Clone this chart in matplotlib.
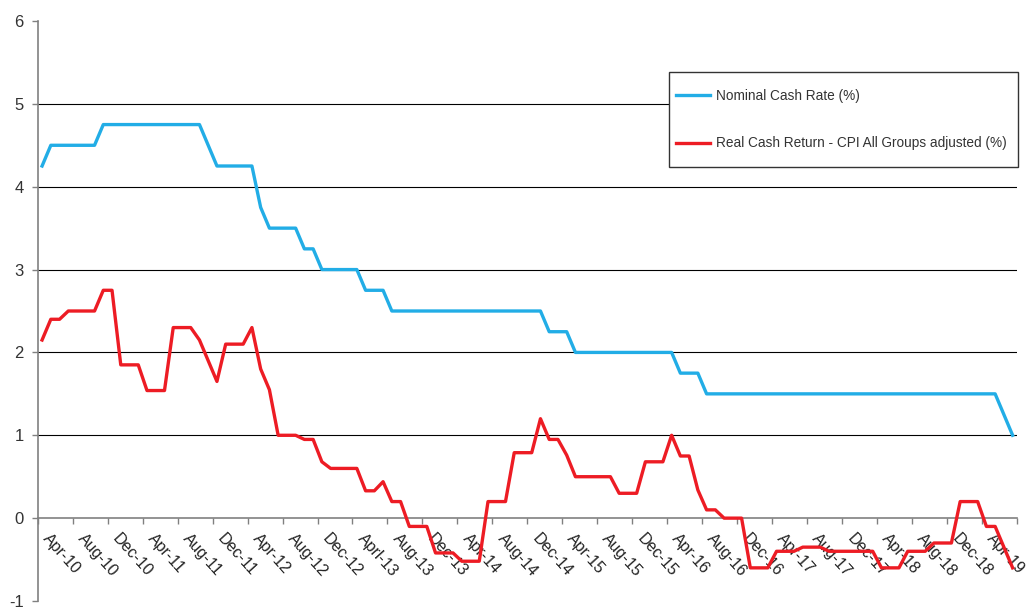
import numpy as np
import matplotlib
matplotlib.use('Agg')
import matplotlib.pyplot as plt
from matplotlib.patches import Rectangle

plt.rcParams['font.family'] = ['Liberation Sans', 'DejaVu Sans']
plt.rcParams['axes.unicode_minus'] = False

# monthly series, Apr-10 .. Jul-19
nominal_cash_rate = [4.25,
                     4.5, 4.5, 4.5, 4.5, 4.5, 4.5,
                     4.75, 4.75, 4.75, 4.75, 4.75, 4.75, 4.75, 4.75, 4.75, 4.75, 4.75, 4.75,
                     4.5,
                     4.25, 4.25, 4.25, 4.25, 4.25,
                     3.75,
                     3.5, 3.5, 3.5, 3.5,
                     3.25, 3.25,
                     3.0, 3.0, 3.0, 3.0, 3.0,
                     2.75, 2.75, 2.75,
                     2.5, 2.5, 2.5, 2.5, 2.5, 2.5, 2.5, 2.5, 2.5, 2.5, 2.5, 2.5, 2.5, 2.5, 2.5, 2.5, 2.5, 2.5,
                     2.25, 2.25, 2.25,
                     2.0, 2.0, 2.0, 2.0, 2.0, 2.0, 2.0, 2.0, 2.0, 2.0, 2.0, 2.0,
                     1.75, 1.75, 1.75,
                     1.5, 1.5, 1.5, 1.5, 1.5, 1.5, 1.5, 1.5, 1.5, 1.5, 1.5, 1.5, 1.5, 1.5, 1.5, 1.5, 1.5,
                     1.5, 1.5, 1.5, 1.5, 1.5, 1.5, 1.5, 1.5, 1.5, 1.5, 1.5, 1.5, 1.5, 1.5, 1.5, 1.5, 1.5,
                     1.25,
                     1.0]

real_cash_return = [2.15, 2.4, 2.4, 2.5, 2.5, 2.5, 2.5, 2.75, 2.75, 1.85,
                    1.85, 1.85, 1.54, 1.54, 1.54, 2.3, 2.3, 2.3, 2.15, 1.9,
                    1.65, 2.1, 2.1, 2.1, 2.3, 1.8, 1.55, 1.0, 1.0, 1.0,
                    0.95, 0.95, 0.68, 0.6, 0.6, 0.6, 0.6, 0.33, 0.33, 0.44,
                    0.2, 0.2, -0.1, -0.1, -0.1, -0.42, -0.42, -0.42, -0.52, -0.52,
                    -0.52, 0.2, 0.2, 0.2, 0.79, 0.79, 0.79, 1.2, 0.95, 0.95,
                    0.76, 0.5, 0.5, 0.5, 0.5, 0.5, 0.3, 0.3, 0.3, 0.68,
                    0.68, 0.68, 1.0, 0.75, 0.75, 0.34, 0.1, 0.1, 0.0, 0.0,
                    0.0, -0.6, -0.6, -0.6, -0.4, -0.4, -0.4, -0.35, -0.35, -0.35,
                    -0.4, -0.4, -0.4, -0.4, -0.4, -0.4, -0.6, -0.6, -0.6, -0.4,
                    -0.4, -0.4, -0.3, -0.3, -0.3, 0.2, 0.2, 0.2, -0.1, -0.1,
                    -0.35, -0.6]

tick_labels = ['Apr-10', 'Aug-10', 'Dec-10', 'Apr-11', 'Aug-11', 'Dec-11',
               'Apr-12', 'Aug-12', 'Dec-12', 'Aprl-13', 'Aug-13', 'Dec-13',
               'Apr-14', 'Aug-14', 'Dec-14', 'Apr-15', 'Aug-15', 'Dec-15',
               'Apr-16', 'Aug-16', 'Dec-16', 'Apr-17', 'Aug-17', 'Dec-17',
               'Apr-18', 'Aug-18', 'Dec-18', 'Apr-19']

blue = '#22ade6'
red = '#ed1c24'
W, H = 1032, 607

fig = plt.figure(figsize=(W / 100, H / 100), dpi=100)
ax = fig.add_axes([37.7 / W, 1 - 601 / H, (1017 - 37.7) / W, 580 / H])

x = np.arange(len(nominal_cash_rate))
ax.plot(x, nominal_cash_rate, color=blue, lw=2.4, label='Nominal Cash Rate (%)', zorder=3)
ax.plot(x, real_cash_return, color=red, lw=2.4,
        label='Real Cash Return - CPI All Groups adjusted (%)', zorder=3)

ax.set_xlim(-0.5, len(x) - 0.5)
ax.set_ylim(-1, 6)

for v in range(1, 6):
    ax.axhline(v, color='black', lw=0.8, zorder=1)

for side in ['top', 'right']:
    ax.spines[side].set_visible(False)
ax.spines['left'].set_color('#808080')
ax.spines['left'].set_linewidth(1.2)
ax.spines['bottom'].set_position(('data', 0))
ax.spines['bottom'].set_color('#808080')
ax.spines['bottom'].set_linewidth(1.2)

ax.set_yticks(range(-1, 7))
ax.tick_params(axis='y', length=4, width=1, color='#808080', pad=6,
               labelsize=12, labelcolor='#333333')

# tick marks at category boundaries, labels on categories
ax.set_xticks(np.arange(-0.5, len(x), 4))
ax.set_xticklabels([])
ax.tick_params(axis='x', which='major', length=4, width=1, color='#808080')
ax.set_xticks(np.arange(0, len(x), 4), minor=True)
ax.set_xticklabels(tick_labels, minor=True, rotation=-48, ha='left', va='baseline',
                   rotation_mode='anchor', fontsize=11.5, color='#222222')
ax.tick_params(axis='x', which='minor', length=0, pad=15)

# legend box drawn separately so the padding matches
box = Rectangle((669 / W, 1 - 167.3 / H), (1017.7 - 669) / W, (167.3 - 71.7) / H,
                transform=fig.transFigure, facecolor='white', edgecolor='#333333',
                lw=1.0, zorder=4, clip_on=False)
ax.add_patch(box)

leg = ax.legend(loc='upper left',
                bbox_to_anchor=(669 / W, 1 - 82 / H - 0.3, 0.3, 0.3),
                bbox_transform=fig.transFigure, borderaxespad=0, fontsize=9.85,
                frameon=False, borderpad=0.5, labelspacing=2.45,
                handlelength=2.5, handletextpad=0.4)
leg.set_zorder(5)
for t in leg.get_texts():
    t.set_color('#333333')

fig.savefig('out.png', dpi=100)
